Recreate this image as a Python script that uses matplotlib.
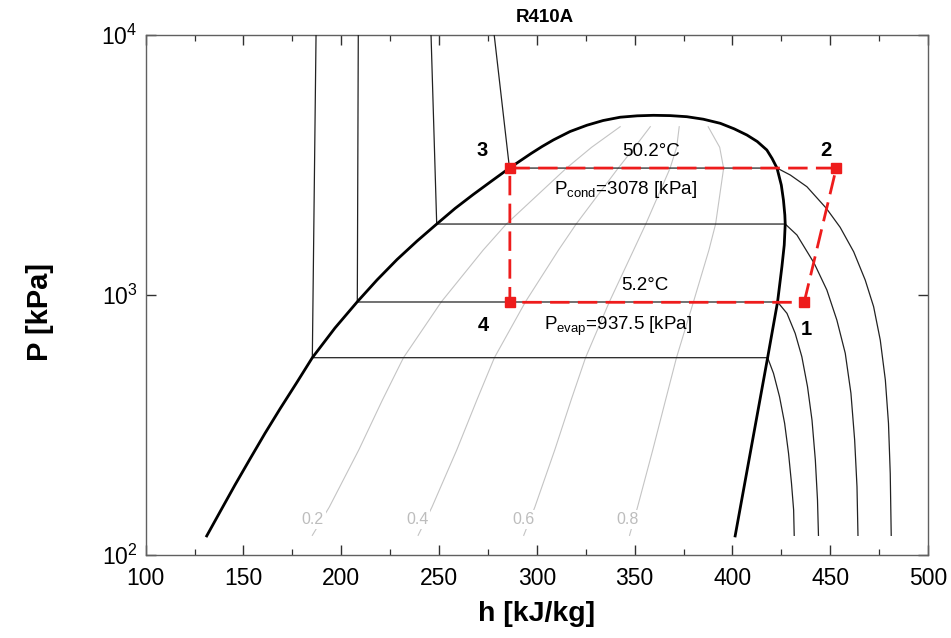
import matplotlib
matplotlib.use("Agg")
import matplotlib.pyplot as plt
from matplotlib.ticker import FixedLocator, NullLocator, MultipleLocator

plt.rcParams['font.family'] = ['Liberation Sans', 'DejaVu Sans']
plt.rcParams['mathtext.fontset'] = 'custom'
plt.rcParams['mathtext.rm'] = 'Liberation Sans'
plt.rcParams['mathtext.it'] = 'Liberation Sans:italic'
plt.rcParams['mathtext.bf'] = 'Liberation Sans:bold'
plt.rcParams['mathtext.default'] = 'regular'

# ---------------- data ----------------
# saturation dome: liquid side (bottom -> top), then vapour side (top -> bottom)
dome_h = [131.2, 138.0, 145.7, 153.4, 161.0, 168.7, 177.4, 185.2, 196.8, 208.2,
          218.3, 228.5, 238.8, 248.8, 258.2, 267.4, 276.6, 286.0, 291.5, 297.1,
          302.7, 308.5, 317.0, 325.6, 333.9, 342.6, 351.3, 359.6, 368.2, 376.7,
          385.1, 393.8, 400.9, 407.4, 412.7, 417.6, 420.3, 422.8, 425.0, 426.1,
          426.8, 427.0, 426.5, 425.3, 423.1, 418.0, 401.4]
dome_P = [118.4, 146.5, 186.2, 234.6, 293.8, 365.0, 462.4, 574, 747, 942,
          1143, 1369, 1614, 1875, 2153, 2433, 2735, 3078, 3282, 3504,
          3726, 3950, 4255, 4498, 4690, 4829, 4889, 4911, 4898, 4851,
          4745, 4575, 4357, 4125, 3894, 3612, 3350, 3078, 2648, 2317,
          2032, 1875, 1557, 1284, 942, 574, 118.4]

# isotherms: compressed-liquid part, two-phase horizontal, superheated part
iso_A_h = [187.1, 185.2, 418.0, 421.0, 424.1, 426.7, 428.7, 430.2, 431.3, 431.6]
iso_A_P = [10000, 574, 574, 500, 406, 321, 246, 189, 149, 119]
iso_B_h = [208.7, 208.2, 423.1, 427.9, 432.1, 435.5, 438.4, 440.7, 442.4, 443.5, 444.0]
iso_B_P = [10000, 940, 940, 850, 712, 579, 444, 330, 232, 163, 119]
iso_C_h = [245.9, 248.8, 427.0, 433.0, 441.8, 448.3, 453.4, 457.7, 460.6, 462.5, 463.7, 464.2]
iso_C_P = [10000, 1875, 1875, 1701, 1325, 1045, 801, 597, 419, 277, 183, 119]
iso_D_h = [278.2, 286.0, 422.8, 429.6, 438.1, 448.0, 455.1, 462.0, 467.9, 472.2,
           475.6, 478.2, 479.8, 480.7, 481.2]
iso_D_P = [10000, 3078, 3078, 2894, 2609, 2156, 1821, 1467, 1142, 902,
           671, 471, 321, 206, 119]

# constant-quality lines
q_P = [119, 153, 254, 394, 574, 942, 1490, 1875, 3070, 3700, 4440]
q02_h = [185.2, 193.9, 209.0, 221.0, 231.8, 251.2, 272.6, 284.4, 315.0, 328.0, 342.6]
q04_h = [239.3, 246.4, 259.1, 269.3, 278.3, 294.2, 311.1, 320.1, 341.5, 350.0, 358.0]
q06_h = [293.3, 299.0, 309.2, 317.5, 324.9, 337.1, 349.5, 355.7, 368.1, 371.5, 372.8]
q08_h = [347.4, 351.5, 359.3, 365.8, 371.4, 380.1, 388.0, 391.4, 395.5, 393.5, 387.6]
q_labels = ['0.2', '0.4', '0.6', '0.8']
q_label_h = [185.3, 238.8, 293.3, 346.5]
q_label_P = 137.2

# refrigeration cycle states 1-2-3-4
cyc_h = [436.7, 453.1, 286.2, 286.2]
cyc_P = [937.5, 3078, 3078, 937.5]
cyc_names = ['1', '2', '3', '4']
cyc_lab_h = [437.8, 448.0, 271.9, 272.7]
cyc_lab_P = [702, 3428, 3428, 730]

x_ticks = [100, 150, 200, 250, 300, 350, 400, 450, 500]
y_ticks = [100, 1000, 10000]
y_ticklabels = ['$10^{2}$', '$10^{3}$', '$10^{4}$']

# ---------------- figure ----------------
fig = plt.figure(figsize=(9.51, 6.38), dpi=100)
ax = fig.add_axes([0.1532, 0.1301, 0.8226, 0.8150])
ax.set_yscale('log')
ax.set_xlim(100, 500)
ax.set_ylim(100, 10000)

qgray = '#c4c4c4'
for qh in (q02_h, q04_h, q06_h, q08_h):
    ax.plot(qh, q_P, color=qgray, lw=0.8, zorder=1)
for lab, lh in zip(q_labels, q_label_h):
    ax.text(lh, q_label_P, lab, color='#bdbdbd', fontsize=11.5, ha='center', va='center',
            zorder=2, bbox=dict(facecolor='white', edgecolor='none', pad=1.5))

for ih, ip in ((iso_A_h, iso_A_P), (iso_B_h, iso_B_P), (iso_C_h, iso_C_P), (iso_D_h, iso_D_P)):
    ax.plot(ih, ip, color='#222222', lw=0.9, zorder=3)

ax.plot(dome_h, dome_P, color='black', lw=2.0, zorder=4, solid_joinstyle='round')

cyc_h_closed = cyc_h + [cyc_h[0]]
cyc_P_closed = cyc_P + [cyc_P[0]]
ax.plot(cyc_h_closed, cyc_P_closed, color='#ee1c1c', lw=2.0, linestyle=(0, (7, 3)), zorder=5)
ax.plot(cyc_h, cyc_P, linestyle='none', marker='s', markersize=7, color='#ee1c1c', zorder=6)

for n, lh, lp in zip(cyc_names, cyc_lab_h, cyc_lab_P):
    ax.text(lh, lp, n, fontsize=14.5, fontweight='bold', ha='center', va='baseline', zorder=7)

ax.text(358.3, 3436, '50.2°C', fontsize=13.5, ha='center', va='baseline', zorder=7)
ax.text(345.2, 2440, r'P$_{\mathrm{cond}}$=3078 [kPa]', fontsize=13.5, ha='center', va='baseline', zorder=7)
ax.text(355.4, 1045, '5.2°C', fontsize=13.5, ha='center', va='baseline', zorder=7)
ax.text(341.3, 733, r'P$_{\mathrm{evap}}$=937.5 [kPa]', fontsize=13.5, ha='center', va='baseline', zorder=7)

# axes styling
for s in ax.spines.values():
    s.set_color('#606060')
    s.set_linewidth(1.0)
ax.xaxis.set_major_locator(FixedLocator(x_ticks))
ax.xaxis.set_minor_locator(MultipleLocator(25))
ax.yaxis.set_major_locator(FixedLocator(y_ticks))
ax.yaxis.set_minor_locator(NullLocator())
ax.set_yticklabels(y_ticklabels)
ax.set_xticklabels([str(t) for t in x_ticks])
ax.tick_params(axis='both', which='both', direction='in', top=True, right=True, color='#303030')
ax.tick_params(axis='both', which='major', length=7, width=1.0, labelsize=16.5)
ax.tick_params(axis='x', which='minor', length=4, width=0.9)
ax.tick_params(axis='x', which='major', pad=9)
ax.tick_params(axis='y', which='major', pad=6)

fig.text(545 / 951, 1 - 18 / 638, 'R410A', fontsize=13.5, fontweight='bold', ha='center', va='center')
fig.text(537 / 951, 1 - 614 / 638, 'h [kJ/kg]', fontsize=20.5, fontweight='bold', ha='center', va='center')
fig.text(40 / 951, 1 - 312 / 638, 'P [kPa]', fontsize=21, fontweight='bold', ha='center', va='center',
         rotation=90)

fig.savefig('out.png', dpi=100)
